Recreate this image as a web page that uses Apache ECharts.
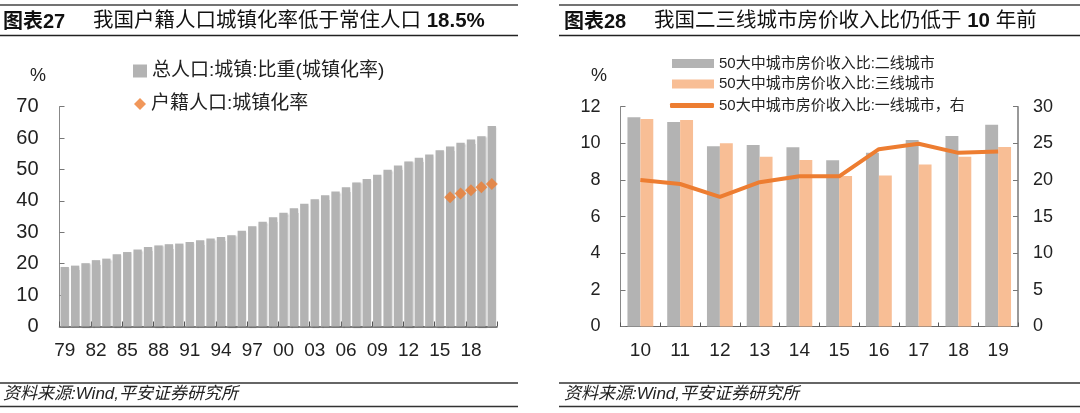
<!DOCTYPE html>
<html>
<head>
<meta charset="utf-8">
<script src="https://cdn.jsdelivr.net/npm/echarts@6/dist/echarts.min.js"></script>
<style>
html,body{margin:0;padding:0;background:#fff;}
#c{width:1080px;height:413px;}
</style>
</head>
<body>
<div id="c"></div>
<script>
// ---------- Chart 27 data ----------
const years27 = ['79','80','81','82','83','84','85','86','87','88','89','90','91','92','93','94','95','96','97','98','99','00','01','02','03','04','05','06','07','08','09','10','11','12','13','14','15','16','17','18','19','20'];
const urbanRate = [18.96,19.39,20.16,21.13,21.62,23.01,23.71,24.52,25.32,25.81,26.21,26.41,26.94,27.46,27.99,28.51,29.04,30.48,31.91,33.35,34.78,36.22,37.66,39.09,40.53,41.76,42.99,44.34,45.89,46.99,48.34,49.95,51.27,52.57,53.73,54.77,56.10,57.35,58.52,59.58,60.60,63.89];
const hukouYears = ['16','17','18','19','20'];
const hukouRate = [41.2,42.35,43.37,44.38,45.4];
const yTicks27 = {min:0,max:70,interval:10};

// ---------- Chart 28 data ----------
const years28 = ['10','11','12','13','14','15','16','17','18','19'];
const tier2 = [11.42,11.16,9.84,9.91,9.78,9.07,9.49,10.18,10.40,11.02];
const tier3 = [11.33,11.27,10.00,9.27,9.09,8.22,8.24,8.85,9.27,9.80];
const tier1 = [20.0,19.45,17.7,19.7,20.5,20.5,24.2,24.95,23.7,23.9];
const yLeft28 = {min:0,max:12,interval:2};
const yRight28 = {min:0,max:30,interval:5};

const names = {
  total:'总人口:城镇:比重(城镇化率)',
  hukou:'户籍人口:城镇化率',
  t2:'50大中城市房价收入比:二线城市',
  t3:'50大中城市房价收入比:三线城市',
  t1:'50大中城市房价收入比:一线城市，右'
};

const FF = 'Liberation Sans, Arial, Noto Sans CJK SC, sans-serif';
const NARROW = 'Liberation Sans Narrow, Arial Narrow, Liberation Sans, Noto Sans CJK SC, sans-serif';
const GRAY = '#b3b3b3', PEACH = '#f8be95', ORANGE = '#ed7d31';

const chart = echarts.init(document.getElementById('c'), null, {renderer:'canvas'});

function titleTexts(x0, x1, label, rich) {
  return [
    {type:'text', left:x0, top:12, style:{text:label, font:'bold 20px ' + FF, fill:'#111'}},
    {type:'text', left:x1, top:11.5, style:{text:rich, fontFamily:FF, fontSize:20.5, fill:'#111',
      rich:{b:{fontFamily:FF, fontSize:20.5, fontWeight:'bold', fill:'#111'}}}}
  ];
}
function hline(x1, x2, y, w, c) {
  return {type:'line', shape:{x1:x1, y1:y, x2:x2, y2:y}, style:{stroke:c, lineWidth:w}};
}

const graphics = [
  hline(0, 518, 5, 1.5, '#444'),
  hline(0, 518, 35.5, 1.5, '#222'),
  hline(559, 1080, 5, 1.5, '#444'),
  hline(559, 1080, 35.5, 1.5, '#222'),
  ...titleTexts(3, 93, '图表27', '我国户籍人口城镇化率低于常住人口 {b|18.5%}'),
  ...titleTexts(564, 654, '图表28', '我国二三线城市房价收入比仍低于 {b|10} 年前'),
  hline(0, 518, 383, 2, '#666'),
  hline(0, 518, 406.5, 1.5, '#333'),
  hline(559, 1080, 383, 2, '#666'),
  hline(559, 1080, 406.5, 1.5, '#333'),
  {type:'text', left:3, top:385.5, style:{text:'资料来源:Wind,平安证券研究所', font:'italic 17px ' + FF, fill:'#222'}},
  {type:'text', left:564, top:385.5, style:{text:'资料来源:Wind,平安证券研究所', font:'italic 17px ' + FF, fill:'#222'}},
  {type:'text', left:30, top:67, style:{text:'%', font:'18px ' + FF, fill:'#222'}},
  {type:'text', left:591, top:67, style:{text:'%', font:'18px ' + FF, fill:'#222'}}
];

const legendText = (size) => ({fontFamily:FF, fontSize:size, color:'#222', lineHeight:size+1});

const option = {
  animation:false,
  backgroundColor:'#fff',
  graphic:graphics,
  legend:[
    {data:[names.total], left:133, top:61, orient:'vertical', icon:'rect', itemWidth:14, itemHeight:13, itemGap:0, padding:0, textStyle:legendText(19)},
    {data:[names.hukou], left:134, top:94, orient:'vertical', icon:'diamond', itemWidth:12, itemHeight:12, itemGap:0, padding:0, textStyle:legendText(19)},
    {data:[names.t2], left:672, top:55.5, icon:'rect', itemWidth:42, itemHeight:9, padding:0, textStyle:legendText(15)},
    {data:[names.t3], left:672, top:76, icon:'rect', itemWidth:42, itemHeight:9, padding:0, textStyle:legendText(15)},
    {data:[names.t1], left:670, top:97.5, icon:'roundRect', itemWidth:44, itemHeight:5, padding:0, textStyle:legendText(15)}
  ],
  grid:[
    {left:59.5, right:583, top:106.7, bottom:86.5},
    {left:620.5, right:62, top:106.7, bottom:86.5}
  ],
  xAxis:[
    {type:'category', gridIndex:0, data:years27, boundaryGap:true,
     axisLine:{lineStyle:{color:'#5a5a5a', width:1.5}},
     axisTick:{show:true, inside:true, length:5, interval:2, lineStyle:{color:'#555'}},
     axisLabel:{interval:2, margin:15, fontFamily:NARROW, fontSize:19, color:'#222'}},
    {type:'category', gridIndex:1, data:years28, boundaryGap:true,
     axisLine:{lineStyle:{color:'#666', width:1.2}},
     axisTick:{show:true, inside:true, length:4, lineStyle:{color:'#555'}},
     axisLabel:{margin:15, fontFamily:FF, fontSize:19, color:'#222'}}
  ],
  yAxis:[
    {type:'value', gridIndex:0, min:yTicks27.min, max:yTicks27.max, interval:yTicks27.interval,
     axisLine:{show:true, lineStyle:{color:'#888', width:1}},
     axisTick:{show:true, inside:true, length:5, lineStyle:{color:'#777'}},
     splitLine:{show:false},
     axisLabel:{margin:21, fontFamily:FF, fontSize:20, color:'#222'}},
    {type:'value', gridIndex:1, min:yLeft28.min, max:yLeft28.max, interval:yLeft28.interval,
     axisLine:{show:true, lineStyle:{color:'#888', width:1}},
     axisTick:{show:true, inside:true, length:5, lineStyle:{color:'#777'}},
     splitLine:{show:false},
     axisLabel:{margin:20, fontFamily:FF, fontSize:18, color:'#222'}},
    {type:'value', gridIndex:1, position:'right', min:yRight28.min, max:yRight28.max, interval:yRight28.interval,
     axisLine:{show:true, lineStyle:{color:'#777', width:1.5}},
     axisTick:{show:true, inside:true, length:5, lineStyle:{color:'#777'}},
     splitLine:{show:false},
     axisLabel:{margin:15, fontFamily:FF, fontSize:18, color:'#222'}}
  ],
  series:[
    {name:names.total, type:'bar', xAxisIndex:0, yAxisIndex:0, data:urbanRate,
     barCategoryGap:'20%', itemStyle:{color:GRAY, shadowColor:'rgba(0,0,0,0.18)', shadowBlur:1.5, shadowOffsetX:1, shadowOffsetY:1}},
    {name:names.hukou, type:'scatter', xAxisIndex:0, yAxisIndex:0,
     data:hukouYears.map((y,i)=>[y, hukouRate[i]]),
     symbol:'diamond', symbolSize:12, itemStyle:{color:ORANGE}, z:5},
    {name:names.t2, type:'bar', xAxisIndex:1, yAxisIndex:1, data:tier2,
     barGap:'0%', barCategoryGap:'35%', itemStyle:{color:GRAY}},
    {name:names.t3, type:'bar', xAxisIndex:1, yAxisIndex:1, data:tier3,
     barGap:'0%', barCategoryGap:'35%', itemStyle:{color:PEACH}},
    {name:names.t1, type:'line', xAxisIndex:1, yAxisIndex:2, data:tier1,
     symbol:'none', lineStyle:{color:ORANGE, width:4}, itemStyle:{color:ORANGE}, z:5}
  ]
};
chart.setOption(option);
</script>
</body>
</html>
